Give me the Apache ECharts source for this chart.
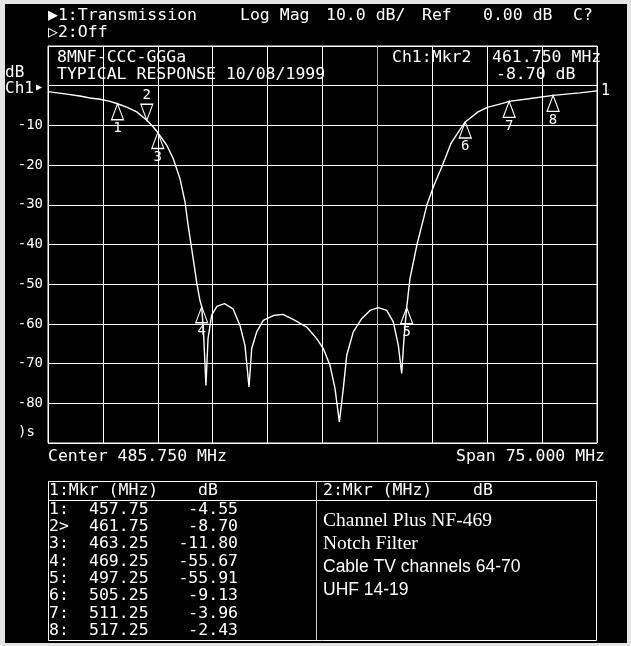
<!DOCTYPE html>
<html><head><meta charset="utf-8">
<script src="https://cdn.jsdelivr.net/npm/echarts@6/dist/echarts.min.js"></script>
<style>html,body{margin:0;padding:0;background:#000;} #c{width:631px;height:646px;}</style>
</head><body><div id="c"></div>
<script>
// ---- data ----
const traceFreq = [448.25, 450.34, 452.59, 453.99, 455.35, 456.72, 457.75, 459.0, 460.37, 461.75, 462.64, 463.25, 464.47, 465.37, 466.28, 466.97, 467.38, 467.79, 468.2, 468.6, 469.0, 469.25, 469.49, 469.83, 470.11, 470.61, 471.33, 472.36, 473.52, 474.48, 475.16, 475.71, 476.08, 476.76, 477.66, 479.03, 480.35, 481.99, 483.59, 484.96, 485.86, 486.77, 487.46, 488.05, 488.59, 489.06, 489.96, 491.1, 492.24, 493.37, 494.52, 495.42, 496.11, 496.57, 496.88, 497.25, 497.7, 498.66, 500.02, 500.98, 502.13, 503.28, 504.44, 505.25, 507.0, 508.36, 510.23, 511.25, 513.93, 517.25, 520.89, 523.25];
const traceDb = [-1.5, -2.0, -2.6, -3.1, -3.4, -3.95, -4.55, -5.4, -6.6, -8.7, -10.4, -11.8, -15.0, -18.4, -23.4, -29.3, -35, -40, -45, -50, -54, -55.67, -62, -75.5, -63.7, -57.8, -55.6, -54.9, -56.2, -60.4, -65.4, -75.9, -66.2, -62, -59.1, -57.9, -57.6, -59.1, -60.8, -63.7, -66.2, -70.4, -76.3, -84.7, -76.3, -67.9, -62, -58.7, -56.6, -55.9, -56.6, -59.5, -65.4, -72.5, -63.7, -55.91, -48.6, -40, -30, -25.1, -20.1, -14.6, -11.3, -9.13, -6.6, -5.4, -4.5, -3.96, -3.3, -2.43, -1.8, -1.3];
const markerLabels = ['1', '2', '3', '4', '5', '6', '7', '8'];
const markerFreq = [457.75, 461.75, 463.25, 469.25, 497.25, 505.25, 511.25, 517.25];
const markerDb = [-4.55, -8.70, -11.80, -55.67, -55.91, -9.13, -3.96, -2.43];
const activeMarker = 1;
const yLabelValues = [-10, -20, -30, -40, -50, -60, -70, -80];
const freqStart = 448.25, freqStop = 523.25;
const dbMin = -90, dbMax = 10, dbStep = 10;
const centerText = 'Center 485.750 MHz';
const spanText = 'Span 75.000 MHz';
const noteLines = ['Channel Plus NF-469', 'Notch Filter', 'Cable TV channels 64-70', 'UHF 14-19'];

// ---- styles ----
const MONO = '"DejaVu Sans Mono", "Liberation Mono", monospace';
const W = '#ffffff';
function txt(text, x, y, opt) {
  opt = opt || {};
  return {
    type: 'text', x: x, y: y, z: 50, silent: true,
    style: {
      text: text, fill: opt.fill || W,
      font: opt.font || ('16.5px ' + MONO),
      textAlign: opt.align || 'left', align: opt.align || 'left',
      textVerticalAlign: 'middle', verticalAlign: 'middle'
    }
  };
}

const graphics = [];
// top header
graphics.push(txt('\u25B61:Transmission', 48, 16));
graphics.push(txt('\u25B72:Off', 48, 33));
graphics.push(txt('Log Mag', 240, 16));
graphics.push(txt('10.0 dB/', 326, 16));
graphics.push(txt('Ref', 422, 16));
graphics.push(txt('0.00 dB', 483, 16));
graphics.push(txt('C?', 573, 16));
// in-plot header
graphics.push(txt('8MNF-CCC-GGGa', 57, 58));
graphics.push(txt('TYPICAL RESPONSE 10/08/1999', 57, 75));
graphics.push(txt('Ch1:Mkr' + markerLabels[activeMarker], 392, 58));
graphics.push(txt(markerFreq[activeMarker].toFixed(3) + ' MHz', 492, 58));
graphics.push(txt(markerDb[activeMarker].toFixed(2) + ' dB', 496, 75));
// left axis annotations
graphics.push(txt('dB', 5, 73, {font: '16px ' + MONO}));
graphics.push(txt('Ch1', 5, 89, {font: '16px ' + MONO}));
graphics.push(txt('\u25B6', 36, 87, {font: '10px ' + MONO}));
graphics.push(txt(')s', 18, 432, {font: '14px ' + MONO}));
// bottom
graphics.push(txt(centerText, 48, 457));
graphics.push(txt(spanText, 605, 457, {align: 'right'}));
// table
graphics.push({type: 'rect', z: 50, silent: true, shape: {x: 48.5, y: 481.5, width: 548, height: 159}, style: {fill: 'none', stroke: W, lineWidth: 1}});
graphics.push({type: 'line', z: 50, silent: true, shape: {x1: 48.5, y1: 500.5, x2: 596.5, y2: 500.5}, style: {stroke: W, lineWidth: 1}});
graphics.push({type: 'line', z: 50, silent: true, shape: {x1: 316.5, y1: 481.5, x2: 316.5, y2: 640.5}, style: {stroke: '#cfcfcf', lineWidth: 1}});
graphics.push(txt('1:Mkr (MHz)', 49, 491));
graphics.push(txt('dB', 198, 491));
graphics.push(txt('2:Mkr (MHz)', 323, 491));
graphics.push(txt('dB', 473, 491));
markerFreq.forEach(function (f, i) {
  const y = 509.5 + i * 17.3;
  graphics.push(txt(markerLabels[i] + (i === activeMarker ? '>' : ':'), 49, y));
  graphics.push(txt(f.toFixed(2), 89, y));
  graphics.push(txt(markerDb[i].toFixed(2), 238, y, {align: 'right'}));
});
graphics.push(txt(noteLines[0], 323, 521, {font: '19.5px "Liberation Serif", "Times New Roman", serif'}));
graphics.push(txt(noteLines[1], 323, 544, {font: '19.5px "Liberation Serif", "Times New Roman", serif'}));
graphics.push(txt(noteLines[2], 323, 567, {font: '17.5px "Liberation Sans", Arial, sans-serif'}));
graphics.push(txt(noteLines[3], 323, 590, {font: '17.5px "Liberation Sans", Arial, sans-serif'}));
// outer light frame of the photo
const EDGE = '#e4e4e4';
graphics.push({type: 'rect', z: 100, silent: true, shape: {x: 0, y: 0, width: 631, height: 4}, style: {fill: EDGE}});
graphics.push({type: 'rect', z: 100, silent: true, shape: {x: 0, y: 0, width: 5, height: 646}, style: {fill: EDGE}});
graphics.push({type: 'rect', z: 100, silent: true, shape: {x: 627, y: 0, width: 4, height: 646}, style: {fill: EDGE}});
graphics.push({type: 'rect', z: 100, silent: true, shape: {x: 0, y: 643, width: 631, height: 3}, style: {fill: EDGE}});

const vLineColors = [];
for (let i = 0; i <= 10; i++) vLineColors.push(i === 6 ? '#b0b0b0' : W);

const chart = echarts.init(document.getElementById('c'), null, {renderer: 'canvas'});
chart.setOption({
  backgroundColor: '#000',
  animation: false,
  grid: {left: 48, right: 34, top: 46, bottom: 203, show: true, borderColor: W, borderWidth: 1, backgroundColor: 'transparent'},
  xAxis: [
    {type: 'value', min: freqStart, max: freqStop, show: false, splitLine: {show: false}},
    {type: 'value', min: 0, max: 10, interval: 1, position: 'bottom',
      axisLine: {show: false}, axisTick: {show: false}, axisLabel: {show: false},
      splitLine: {show: true, lineStyle: {color: vLineColors, width: 1}}}
  ],
  yAxis: {
    type: 'value', min: dbMin, max: dbMax, interval: dbStep,
    axisLine: {show: false}, axisTick: {show: false},
    splitLine: {show: true, lineStyle: {color: W, width: 1}},
    axisLabel: {
      color: W, fontFamily: MONO, fontSize: 14, margin: 5,
      formatter: function (v) { return yLabelValues.indexOf(v) >= 0 ? String(v) : ''; }
    }
  },
  graphic: {elements: graphics},
  series: [
    {
      type: 'line', xAxisIndex: 0, yAxisIndex: 0,
      data: traceFreq.map(function (f, i) { return [f, traceDb[i]]; }),
      showSymbol: false, symbol: 'none', smooth: false, z: 3,
      lineStyle: {color: W, width: 1.4},
      endLabel: {show: true, formatter: '1', color: W, fontFamily: MONO, fontSize: 15, distance: 4},
      emphasis: {disabled: true}
    },
    {
      type: 'scatter', xAxisIndex: 0, yAxisIndex: 0, z: 4,
      symbolSize: [12, 16],
      itemStyle: {color: 'rgba(0,0,0,0)', borderColor: W, borderWidth: 1.2, opacity: 1},
      label: {show: true, formatter: '{b}', color: W, fontFamily: MONO, fontSize: 14, position: 'bottom', distance: 1, opacity: 1},
      emphasis: {disabled: true},
      data: markerFreq.map(function (f, i) {
        const active = i === activeMarker;
        return {
          name: markerLabels[i],
          value: [f, markerDb[i]],
          symbol: active ? 'path://M0,0L12,0L6,16Z' : 'path://M6,0L12,16L0,16Z',
          symbolOffset: active ? [0, -8] : [0, 8],
          label: {position: active ? 'top' : 'bottom'}
        };
      })
    }
  ]
});
</script>
</body></html>
